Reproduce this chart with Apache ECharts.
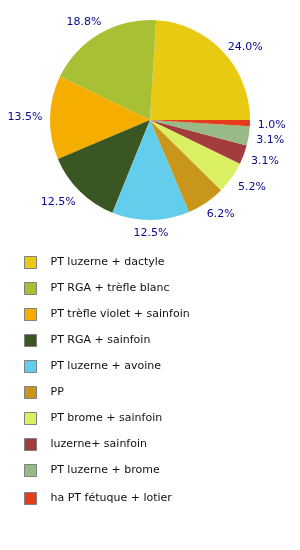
<!DOCTYPE html>
<html>
<head>
<meta charset="utf-8">
<script src="https://cdn.jsdelivr.net/npm/echarts@6/dist/echarts.min.js"></script>
<style>
html,body{margin:0;padding:0;background:#fff;}
#chart{width:300px;height:550px;}
</style>
</head>
<body>
<div id="chart"></div>
<script>
const categories = [
  "PT luzerne + dactyle",
  "PT RGA + trèfle blanc",
  "PT trèfle violet + sainfoin",
  "PT RGA + sainfoin",
  "PT luzerne + avoine",
  "PP",
  "PT brome + sainfoin",
  "luzerne+ sainfoin",
  "PT luzerne + brome",
  "ha PT fétuque + lotier"
];
const percents = [24.0, 18.8, 13.5, 12.5, 12.5, 6.2, 5.2, 3.1, 3.1, 1.0];
const colors = ["#E8CA12", "#A8C134", "#F5AE00", "#3A5622", "#62CEEC", "#C8961A", "#DAF062", "#A33C3C", "#98BA86", "#E33D1C"];

const CX = 150, CY = 120, R = 100;
const total = percents.reduce((a, b) => a + b, 0);
const midAngles = [];
(function () {
  let acc = 0;
  percents.forEach(v => { midAngles.push((acc + v / 2) / total * 2 * Math.PI); acc += v; });
})();

const data = categories.map((c, i) => ({ name: c, value: percents[i], itemStyle: { color: colors[i] } }));

function clamp(v, a, b) { return Math.max(a, Math.min(b, v)); }
function labelPos(i, hw) {
  const a = midAngles[i];
  const c = Math.cos(a), s = Math.sin(a);
  const hh = 6.3, Rl = 106.7;
  const f = clamp(c * 1.3, -1, 1);
  const g = s >= 0 ? clamp((s - 0.7) * 5.5, 0, 1) : -Math.min(1, 0.3 + Math.abs(s));
  return [CX + Rl * c + (hw + 1) * f, CY - Rl * s - hh * g];
}

const chart = echarts.init(document.getElementById('chart'), null, { renderer: 'canvas' });
const legendCommon = {
  orient: 'vertical',
  left: 24,
  itemWidth: 12,
  itemHeight: 12,
  itemGap: 13,
  icon: 'rect',
  itemStyle: { borderColor: '#808080', borderWidth: 1 },
  textStyle: { fontFamily: 'DejaVu Sans', fontSize: 11, color: '#111', lineHeight: 12, padding: [0, 0, 0, 9] },
  padding: 0
};
chart.setOption({
  animation: false,
  legend: [
    Object.assign({}, legendCommon, { top: 256, data: categories.slice(0, 9) }),
    Object.assign({}, legendCommon, { top: 492, data: categories.slice(9) })
  ],
  series: [{
    type: 'pie',
    center: [CX, CY],
    radius: R,
    startAngle: 0,
    clockwise: false,
    avoidLabelOverlap: false,
    data: data,
    label: {
      show: true,
      position: 'outside',
      overflow: 'none',
      fontFamily: 'DejaVu Sans',
      fontSize: 11,
      color: '#0A0A8A',
      formatter: p => p.value.toFixed(1) + '%'
    },
    labelLine: { show: false, length: 5, length2: 0 },
    labelLayout: function (params) {
      const p = labelPos(params.dataIndex, params.labelRect.width / 2);
      return { x: p[0], y: p[1], align: 'center', verticalAlign: 'middle' };
    },
    emphasis: { disabled: true }
  }]
});
</script>
</body>
</html>
